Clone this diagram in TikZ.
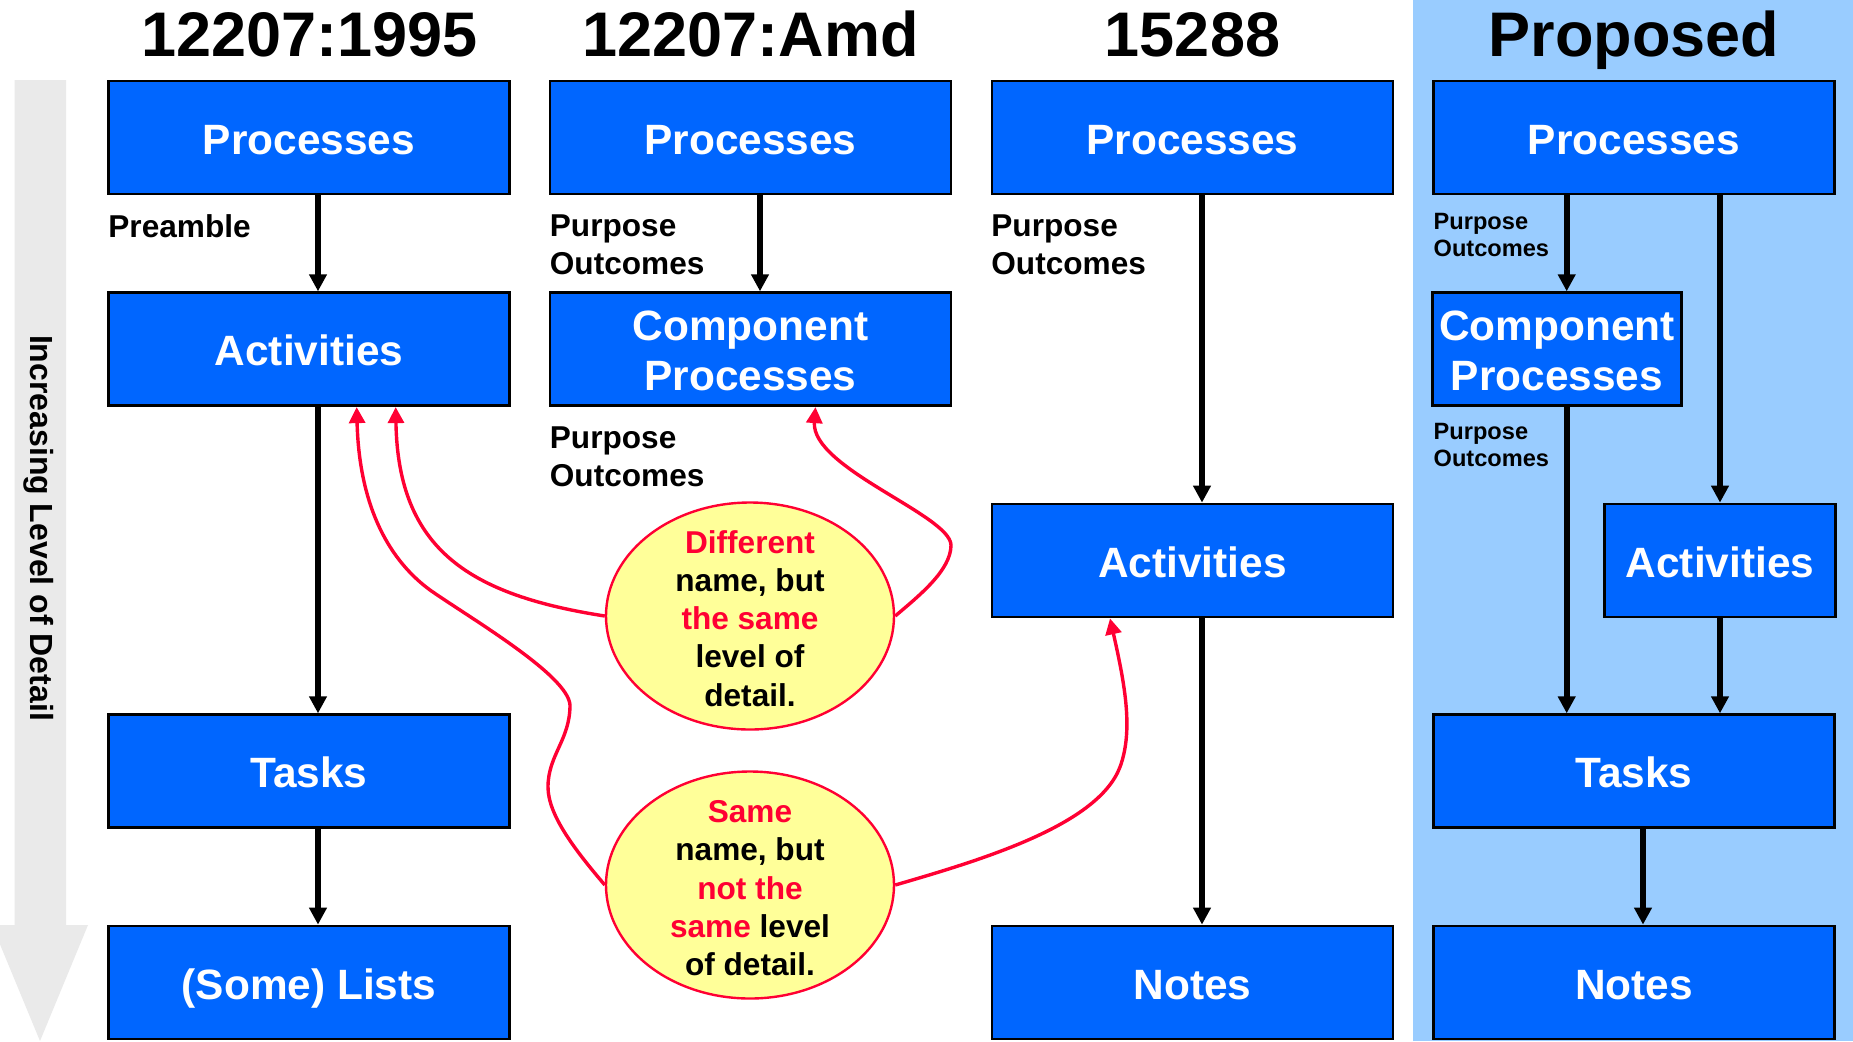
\documentclass[tikz,border=0pt]{standalone}
\usepackage{fontspec}
\setmainfont{Liberation Sans}
\usetikzlibrary{arrows.meta,shapes.geometric}
\definecolor{boxblue}{HTML}{0066FF}
\definecolor{panelblue}{HTML}{99CCFF}
\definecolor{arrowgray}{HTML}{EAEAEA}
\definecolor{hired}{HTML}{FF0033}
\definecolor{ellyellow}{HTML}{FFFF99}
\begin{document}
\begin{tikzpicture}[x=0.5pt,y=-0.5pt,
  box/.style={draw=black, line width=1.4pt, fill=boxblue, text=white,
    font=\bfseries\fontsize{21.2}{25}\selectfont, minimum width=200.5pt,
    minimum height=56.5pt, inner sep=0pt, align=center,
    text height=16.5pt, text depth=0pt},
  twoline/.style={text height=40.8pt, text depth=0pt},
  title/.style={font=\bfseries\fontsize{31.5}{36}\selectfont, anchor=base, inner sep=0pt},
  lbl/.style={font=\bfseries\fontsize{15.8}{19}\selectfont, anchor=base west, align=left, inner sep=0pt},
  slbl/.style={font=\bfseries\fontsize{11.8}{13.7}\selectfont, anchor=base west, align=left, inner sep=0pt},
  blk/.style={line width=2.8pt, -{Triangle[length=8.5pt,width=8.5pt]}},
  redc/.style={draw=hired, line width=1.7pt, -{Triangle[length=8pt,width=8pt]}},
  bubble/.style={ellipse, draw=hired, line width=1.2pt, fill=ellyellow,
    minimum width=144pt, minimum height=113.5pt, inner sep=0pt},
  btext/.style={font=\bfseries\fontsize{15.8}{19.1}\selectfont, align=center, inner sep=0pt}
]
\useasboundingbox (0,0) rectangle (1853,1041);
\fill[white] (0,0) rectangle (1853,1041);
\fill[panelblue] (1413,0) rectangle (1853,1041);
% gray arrow
\fill[arrowgray] (14.5,80) -- (66,80) -- (66,925) -- (88,925) -- (40,1041) -- (-8,925) -- (14.5,925) -- cycle;
\node[rotate=-90, font=\bfseries\fontsize{16}{19}\selectfont, inner sep=0pt] (side) at (38.5,528) {Increasing Level of Detail};

% titles
\node[title] (h1) at (309.6,56.7) {12207:1995};
\node[title] (h2) at (750.5,56.7) {12207:Amd};
\node[title] (h3) at (1192.5,56.7) {15288};
\node[title] (h4) at (1634,56.7) {Proposed};

% column 1
\node[box] (p1) at (309,137.5) {Processes};
\node[box] (a1) at (309,349.2) {Activities};
\node[box] (t1) at (309,771.2) {Tasks};
\node[box] (l1) at (309,982.5) {(Some) Lists};
\node[lbl] (pre1) at (108,237.3) {Preamble};

% column 2
\node[box] (p2) at (750.5,137.5) {Processes};
\node[box, twoline] (c2) at (750.5,349.2) {Component\\Processes};
\node[lbl] (po2a) at (549.5,274.7) {Purpose\\Outcomes};
\node[lbl] (po2b) at (549.5,486) {Purpose\\Outcomes};

% column 3
\node[box] (p3) at (1192.5,137.5) {Processes};
\node[box] (a3) at (1192.5,560.5) {Activities};
\node[box] (n3) at (1192.5,982.5) {Notes};
\node[lbl] (po3) at (991,274.7) {Purpose\\Outcomes};

% column 4
\node[box] (p4) at (1634,137.5) {Processes};
\node[box, twoline, minimum width=124.5pt] (c4) at (1557,349.2) {Component\\Processes};
\node[box, minimum width=115.5pt] (a4) at (1720,560.5) {Activities};
\node[box] (t4) at (1634,771.2) {Tasks};
\node[box] (n4) at (1634,982.5) {Notes};
\node[slbl] (po4a) at (1433.3,256.7) {Purpose\\Outcomes};
\node[slbl] (po4b) at (1433.3,466.7) {Purpose\\Outcomes};

% black connectors
\draw[blk] ([xshift=4.5pt]p1.south) -- ([xshift=4.5pt]a1.north);
\draw[blk] ([xshift=4.5pt]a1.south) -- ([xshift=4.5pt]t1.north);
\draw[blk] ([xshift=4.5pt]t1.south) -- ([xshift=4.5pt]l1.north);
\draw[blk] ([xshift=4.75pt]p2.south) -- ([xshift=4.75pt]c2.north);
\draw[blk] ([xshift=4.75pt]p3.south) -- ([xshift=4.75pt]a3.north);
\draw[blk] ([xshift=4.75pt]a3.south) -- ([xshift=4.75pt]n3.north);
\draw[blk] ([xshift=-33.65pt]p4.south) -- ([xshift=4.85pt]c4.north);
\draw[blk] ([xshift=43pt]p4.south) -- (a4.north);
\draw[blk] ([xshift=4.85pt]c4.south) -- ([xshift=-33.65pt]t4.north);
\draw[blk] (a4.south) -- ([xshift=43pt]t4.north);
\draw[blk] ([xshift=4.5pt]t4.south) -- ([xshift=4.5pt]n4.north);

% bubbles
\node[bubble] (e1) at (750,616) {};
\node[btext, yshift=-1.2pt] (e1t) at (e1.center) {{\color{hired}Different}\\name, but\\{\color{hired}the same}\\level of\\detail.};
\node[bubble] (e2) at (750,885) {};
\node[btext, yshift=-1.6pt] (e2t) at (e2.center) {{\color{hired}Same}\\name, but\\{\color{hired}not the}\\{\color{hired}same} level\\of detail.};

% red connectors
\draw[redc] (e1.west) .. controls (470,595) and (398,550) .. ([xshift=43.35pt]a1.south);
\draw[redc] (e2.west) .. controls (575,850) and (548,815) .. (548,787)
  .. controls (548,755) and (570,740) .. (570,705)
  .. controls (568,675) and (470,618) .. (430,590)
  .. controls (385,557) and (359,500) .. ([xshift=23.85pt]a1.south);
\draw[redc] (e1.east) .. controls (920,595) and (951,570) .. (951,545)
  .. controls (950,515) and (811,468) .. ([xshift=32.5pt]c2.south);
\draw[redc] (e2.east) .. controls (983,859.5) and (1098,825) .. (1120,767)
  .. controls (1133.5,730.5) and (1125,685) .. ([xshift=-41.25pt]a3.south);
\end{tikzpicture}
\end{document}
